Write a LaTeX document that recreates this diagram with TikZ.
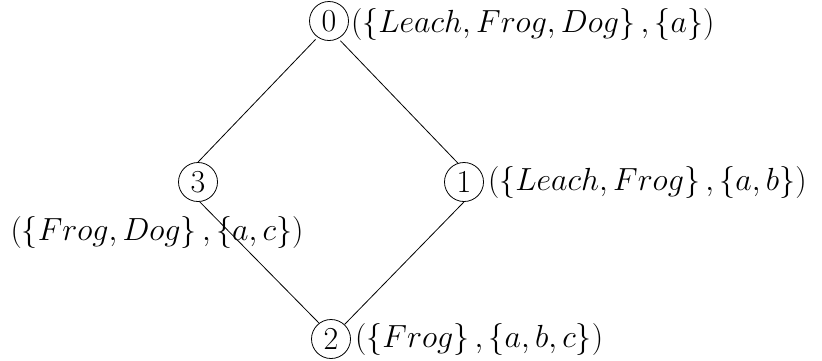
\RequirePackage{fix-cm}
\documentclass[tikz,border=0pt]{standalone}
\usepackage{amsmath,amssymb}
\usepackage{tikz}
\usetikzlibrary{positioning}

\begin{document}
\begin{tikzpicture}[x=1pt,y=-1pt,
  state/.style={circle,draw,line width=0.8pt,inner sep=0.5pt,minimum size=39pt,font=\fontsize{32}{38}\selectfont},
  lbl/.style={inner sep=0pt,font=\fontsize{32}{38}\selectfont},
  edge/.style={line width=0.8pt}]
\useasboundingbox (0,0) rectangle (822,360);
\node[state](n0) at (329,21){0};
\node[state](n3) at (198,182){3};
\node[state](n1) at (464,182){1};
\node[state](n2) at (331,339){2};
\node[lbl,right=2pt of n0,yshift=-3pt](l0){$(\left\{Leach,Frog,Dog\right\},\left\{a\right\})$};
\node[lbl,right=4pt of n1](l1){$(\left\{Leach,Frog\right\},\left\{a,b\right\})$};
\node[lbl,right=4pt of n2](l2){$(\left\{Frog\right\},\left\{a,b,c\right\})$};
\node[lbl](l3) at (157,232){$(\left\{Frog,Dog\right\},\left\{a,c\right\})$};
\draw[edge,shorten <=3pt](n0.-125)--(n3.90);
\draw[edge,shorten <=3pt](n0.-62)--(n1.108);
\draw[edge](n3.-85)--(n2.127);
\draw[edge](n1.-90)--(n2.47);
\end{tikzpicture}
\end{document}
